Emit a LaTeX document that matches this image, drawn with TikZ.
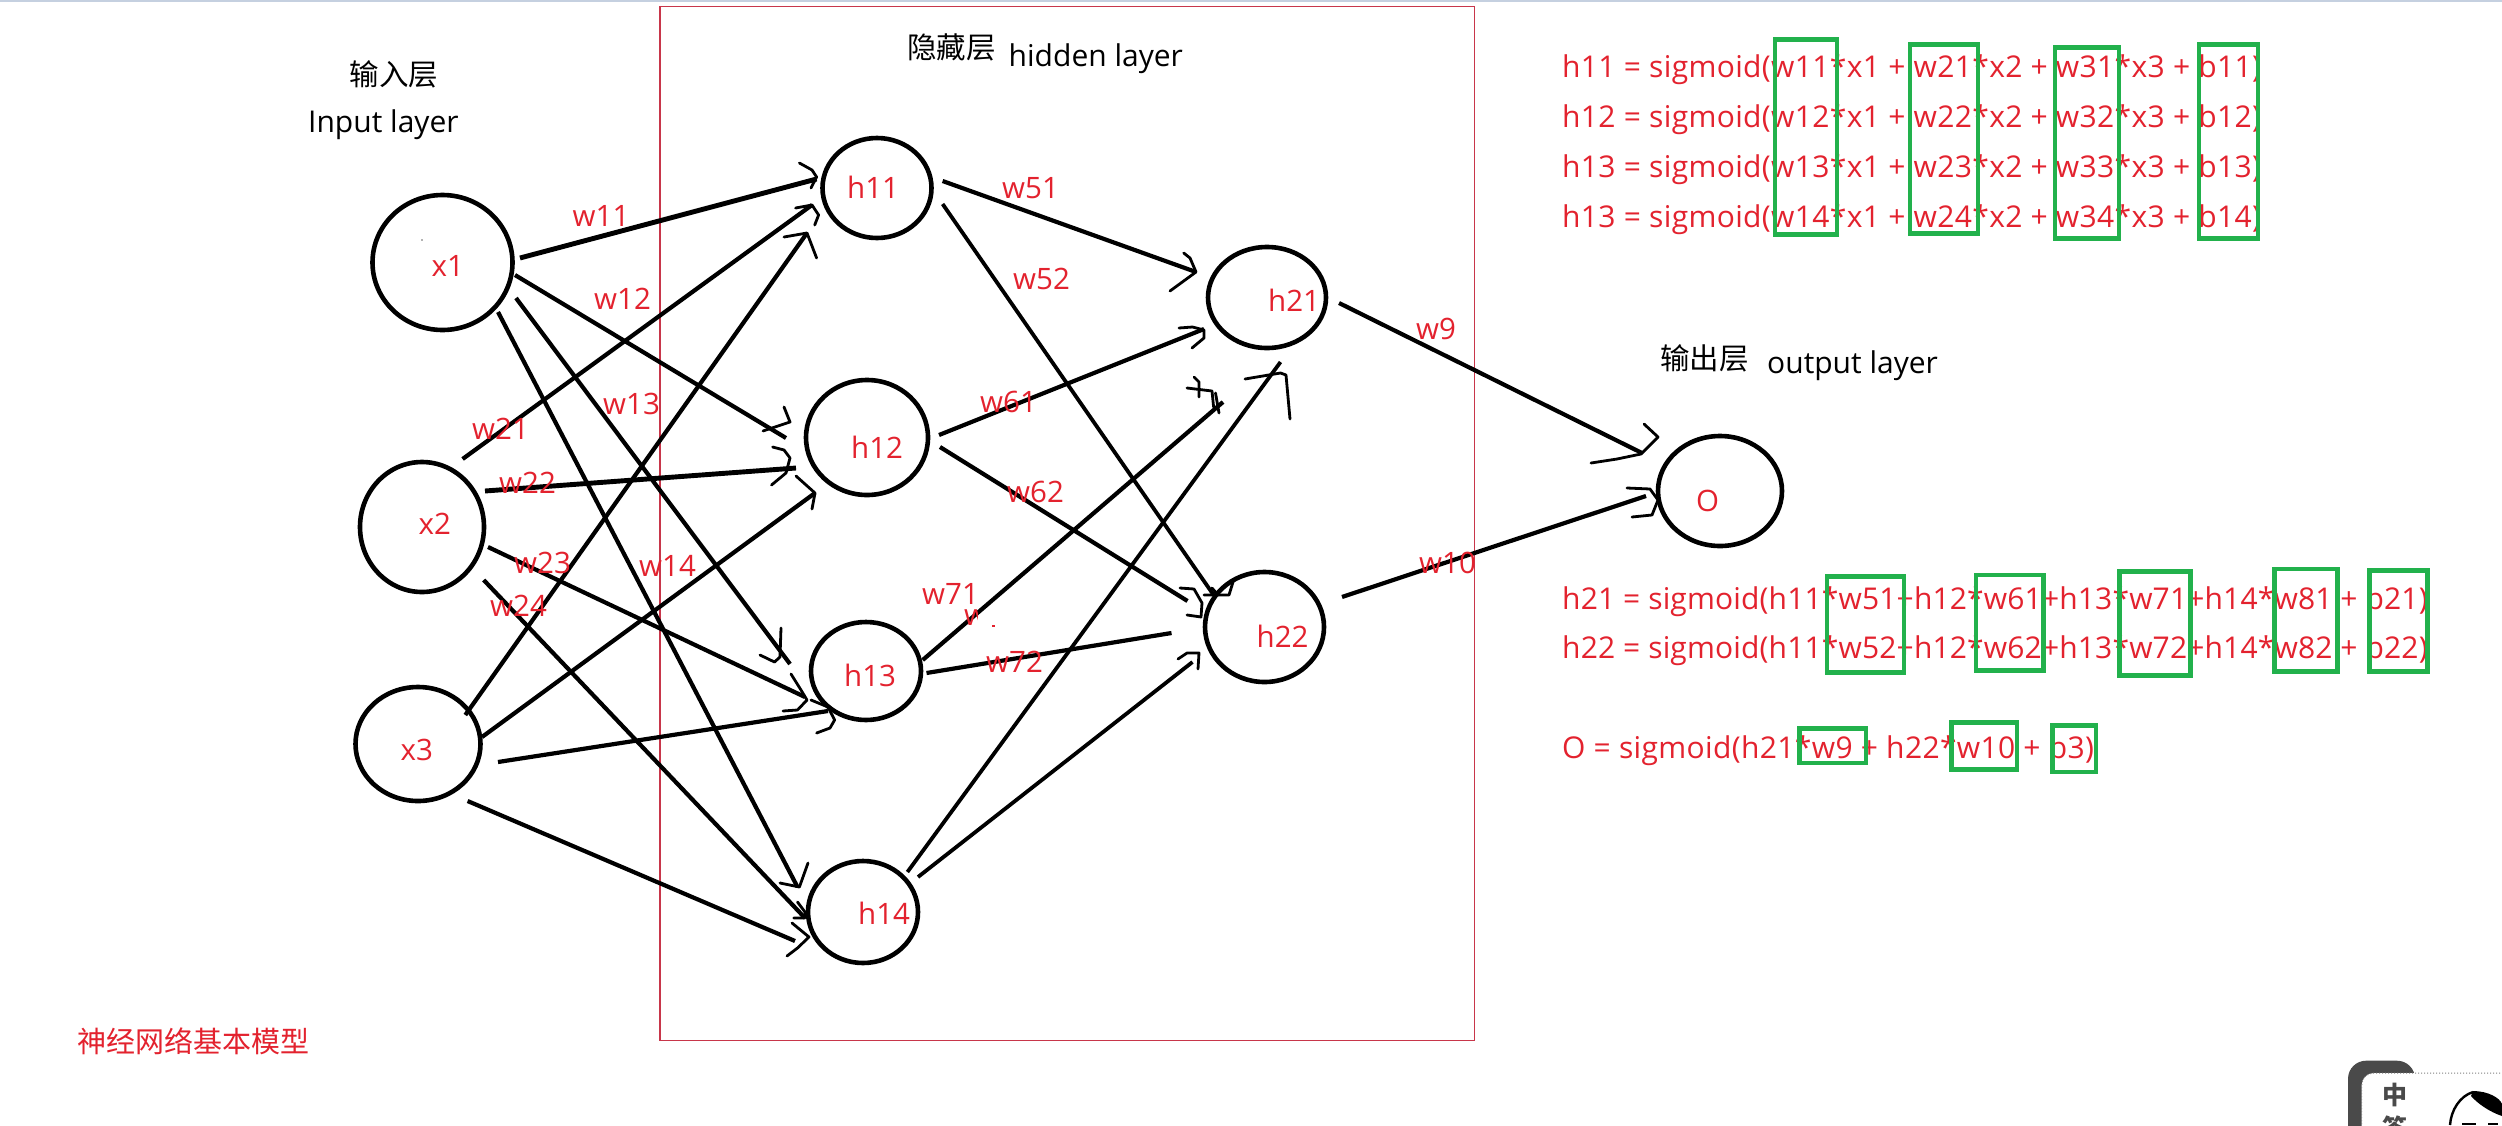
\documentclass[tikz,border=0pt]{standalone}
\usepackage{fontspec}
\setmainfont{Open Sans}
\newfontfamily\cjk{Noto Sans CJK SC}
\newfontfamily\formulaA[LetterSpace=1.2]{Open Sans}
\newfontfamily\formulaB[LetterSpace=0.5]{Open Sans}
\newfontfamily\formulaC[LetterSpace=1.2]{Open Sans}
\definecolor{redtxt}{HTML}{E3222E}
\definecolor{greenbox}{HTML}{22B14C}
\definecolor{framered}{HTML}{C8364A}
\definecolor{topbar}{HTML}{C5D0E0}
\definecolor{icongray}{HTML}{4A4A4A}
\tikzset{
  neuron/.style={ellipse,draw=black,line width=4.6pt,inner sep=0pt,fill=none},
  wire/.style={draw=black,line width=4.2pt},
  heavywire/.style={draw=black,line width=4.9pt},
  lightwire/.style={draw=black,line width=3.8pt},
  headstroke/.style={draw=black,line width=2.8pt,line cap=round,line join=round},
  redlabel/.style={anchor=base west,inner sep=0pt,text=redtxt,font=\fontsize{29.5}{32}\selectfont},
  formula/.style={anchor=base west,inner sep=0pt,text=redtxt},
  blacklabel/.style={anchor=base west,inner sep=0pt,text=black,font=\fontsize{30}{32}\selectfont},
  cjklabel/.style={anchor=center,inner sep=0pt,text=black,font=\cjk\fontsize{29.5}{32}\selectfont},
  greenframe/.style={draw=greenbox,line width=4.5pt},
}
\usetikzlibrary{shapes.geometric}
\begin{document}
\begin{tikzpicture}[x=1pt,y=-1pt]
\useasboundingbox (0,0) rectangle (2502,1125);
\clip (0,0) rectangle (2502,1125);
\fill[white] (0,0) rectangle (2502,1125);
\fill[topbar] (0,0) rectangle (2502,2.2);
% hidden-layer frame
\draw[framered,line width=1.6pt] (660,6.5) rectangle (1474.5,1040.5);
% neurons
\node[neuron,minimum width=140pt,minimum height=135pt] (x1) at (442.5,262.5) {};
\node[neuron,minimum width=124pt,minimum height=130pt] (x2) at (422,527) {};
\node[neuron,minimum width=125pt,minimum height=114pt] (x3) at (418,744) {};
\node[neuron,minimum width=109pt,minimum height=100pt] (h11) at (877,188) {};
\node[neuron,minimum width=122pt,minimum height=115pt] (h12) at (867,437.5) {};
\node[neuron,minimum width=110pt,minimum height=98pt] (h13) at (866,671) {};
\node[neuron,minimum width=110pt,minimum height=102pt] (h14) at (863,912) {};
\node[neuron,minimum width=118pt,minimum height=101pt] (h21) at (1267,297.5) {};
\node[neuron,minimum width=119pt,minimum height=110pt] (h22) at (1264.5,627) {};
\node[neuron,minimum width=124pt,minimum height=110pt] (O) at (1720,491) {};
% connectors
\draw[heavywire] ([shift={(77.5,-4.5)}]x1.center) -- ([shift={(-60.4,-9)}]h11.center);
\draw[wire] ([shift={(40.6,-68)}]x2.center) -- ([shift={(-65,17)}]h11.center);
\draw[wire] ([shift={(47.3,-29)}]x3.center) -- ([shift={(-70,45)}]h11.center);
\draw[wire] ([shift={(72.5,12.5)}]x1.center) -- ([shift={(-81,0.5)}]h12.center);
\draw[heavywire] ([shift={(63,-36)}]x2.center) -- ([shift={(-71,30.5)}]h12.center);
\draw[wire] ([shift={(64,-7)}]x3.center) -- ([shift={(-52,55.5)}]h12.center);
\draw[wire] ([shift={(73.5,35.5)}]x1.center) -- ([shift={(-76,-7)}]h13.center);
\draw[wire] ([shift={(66,20)}]x2.center) -- ([shift={(-61,26)}]h13.center);
\draw[wire] ([shift={(80,18)}]x3.center) -- ([shift={(-38,40)}]h13.center);
\draw[wire] ([shift={(55.5,49.5)}]x1.center) -- ([shift={(-65.5,-25)}]h14.center);
\draw[wire] ([shift={(61.7,53)}]x2.center) -- ([shift={(-58,6)}]h14.center);
\draw[wire] ([shift={(49.6,57)}]x3.center) -- ([shift={(-68,29)}]h14.center);
\draw[wire] ([shift={(65.6,-7)}]h11.center) -- ([shift={(-71,-25.5)}]h21.center);
\draw[wire] ([shift={(72,-2.5)}]h12.center) -- ([shift={(-63,31.5)}]h21.center);
\draw[wire] ([shift={(56.7,-11)}]h13.center) -- ([shift={(-44,104.5)}]h21.center);
\draw[lightwire] ([shift={(44.4,-40)}]h14.center) -- ([shift={(13.5,64.5)}]h21.center);
\draw[lightwire] ([shift={(65.6,16)}]h11.center) -- ([shift={(-50.9,-32)}]h22.center);
\draw[wire] ([shift={(73,9.5)}]h12.center) -- ([shift={(-77,-26)}]h22.center);
\draw[wire] ([shift={(60.5,2)}]h13.center) -- ([shift={(-93,6)}]h22.center);
\draw[lightwire] ([shift={(55,-35)}]h14.center) -- ([shift={(-72,35)}]h22.center);
\draw[wire] ([shift={(72,5.5)}]h21.center) -- ([shift={(-78,-38)}]O.center);
\draw[wire] ([shift={(77.5,-30)}]h22.center) -- ([shift={(-74,5)}]O.center);
% hand-drawn arrowheads
\draw[headstroke] (799.4,163) -- (812,170) -- (816.6,177) -- (811,188);
\draw[headstroke] (795.6,208) -- (812,205) -- (818.6,215) -- (814.7,225);
\draw[headstroke] (784,237) -- (807,233) -- (816.6,258);
\draw[headstroke] (784,407) -- (790,422) -- (763,431);
\draw[headstroke] (772.6,447) -- (784,450) -- (790,458) -- (786,473) -- (771.5,485);
\draw[headstroke] (796,476) -- (815,493) -- (812,509);
\draw[headstroke] (781,628) -- (780,657) -- (774.5,662) -- (760,655);
\draw[headstroke] (791,674) -- (801,690) -- (807,700) -- (797.5,710) -- (783,711);
\draw[headstroke] (811,700) -- (828,707) -- (834.6,720) -- (830,728) -- (816.6,733);
\draw[headstroke] (808,863) -- (799.4,887) -- (780,883);
\draw[headstroke] (797.5,902) -- (805,912) -- (805,918) -- (793.7,918);
\draw[headstroke] (792,923) -- (809,937) -- (797.5,948) -- (787,956);
\draw[headstroke] (1183.7,253) -- (1190,258) -- (1196,272) -- (1170,291);
\draw[headstroke] (1179,328) -- (1192.5,327) -- (1204,330) -- (1204,338) -- (1192,348);
\draw[headstroke] (1187,388) -- (1212,391) -- (1213.6,407);
\draw[headstroke] (1194,377) -- (1199,382) -- (1199,397);
\draw[headstroke] (1215.5,393) -- (1219,413);
\draw[headstroke] (1245,379) -- (1280.5,373) -- (1286,375) -- (1290,419);
\draw[headstroke] (1204,595) -- (1229,595) -- (1233,582);
\draw[headstroke] (1212,588) -- (1218,595);
\draw[headstroke] (1180,588) -- (1194,589) -- (1202,603) -- (1201,617) -- (1187,615);
\draw[headstroke] (1178,659) -- (1187,653) -- (1199,653) -- (1198,669);
\draw[headstroke] (1644,424) -- (1658,437) -- (1641,454) -- (1617,459) -- (1591,463);
\draw[headstroke] (1627,488) -- (1650,489) -- (1658,500) -- (1652,515) -- (1632,517);
% stray marks
\fill[black!60] (422,240) circle (0.9pt);
\fill[redtxt] (992,625) rectangle (995,626.5);
% node labels
\node[redlabel] (tx1) at (431.5,276) {x1};
\node[redlabel] (tx2) at (418.5,534) {x2};
\node[redlabel] (tx3) at (400.5,760) {x3};
\node[redlabel] (th11) at (847,198) {h11};
\node[redlabel] (th12) at (851,458) {h12};
\node[redlabel] (th13) at (844,686) {h13};
\node[redlabel] (th14) at (858,924) {h14};
\node[redlabel] (th21) at (1268,311) {h21};
\node[redlabel] (th22) at (1256.5,647) {h22};
\node[redlabel] (tO) at (1696,511) {O};
% weight labels
\node[redlabel] (w11) at (572.5,226.7) {w11};
\node[redlabel] (w12) at (594,309) {w12};
\node[redlabel] (w13) at (603,414) {w13};
\node[redlabel] (w14) at (639,576) {w14};
\node[redlabel] (w21) at (472,439) {w21};
\node[redlabel] (w22) at (499,493) {w22};
\node[redlabel] (w23) at (514,573) {w23};
\node[redlabel] (w24) at (490,616) {w24};
\node[redlabel] (w51) at (1002,198) {w51};
\node[redlabel] (w52) at (1013,289) {w52};
\node[redlabel] (w61) at (980,412) {w61};
\node[redlabel] (w62) at (1007,502) {w62};
\node[redlabel] (w71) at (922,604) {w71};
\node[redlabel] (w72) at (986,672) {w72};
\node[redlabel] (w9) at (1416,339) {w9};
\node[redlabel] (w10) at (1419,573) {w10};
\begin{scope}
  \clip (960,600) rectangle (977,630);
  \node[redlabel] (wfrag) at (964,625) {w};
\end{scope}
% layer titles
\node[cjklabel] (tin) at (394,74) {输入层};
\node[blacklabel] (tinen) at (308,132) {Input layer};
\node[cjklabel] (thid) at (951.5,47.5) {隐藏层};
\node[blacklabel] (thiden) at (1008.5,66) {hidden layer};
\node[cjklabel] (tout) at (1704.5,358) {输出层};
\node[blacklabel] (touten) at (1767,373) {output layer};
\node[cjklabel,text=redtxt,font=\cjk\fontsize{29}{32}\selectfont] (tcap) at (193.5,1041.5) {神经网络基本模型};
% formulas
\node[formula,font=\formulaA\fontsize{30}{32}\selectfont] (f1) at (1562,77) {h11 = sigmoid(w11*x1 + w21*x2 + w31*x3 + b11)};
\node[formula,font=\formulaA\fontsize{30}{32}\selectfont] (f2) at (1562,127) {h12 = sigmoid(w12*x1 + w22*x2 + w32*x3 + b12)};
\node[formula,font=\formulaA\fontsize{30}{32}\selectfont] (f3) at (1562,177) {h13 = sigmoid(w13*x1 + w23*x2 + w33*x3 + b13)};
\node[formula,font=\formulaA\fontsize{30}{32}\selectfont] (f4) at (1562,227) {h13 = sigmoid(w14*x1 + w24*x2 + w34*x3 + b14)};
\node[formula,font=\formulaB\fontsize{30}{32}\selectfont] (f5) at (1562,609) {h21 = sigmoid(h11*w51+h12*w61+h13*w71+h14*w81 + b21)};
\node[formula,font=\formulaB\fontsize{30}{32}\selectfont] (f6) at (1562,658.7) {h22 = sigmoid(h11*w52+h12*w62+h13*w72+h14*w82 + b22)};
\node[formula,font=\formulaC\fontsize{30}{32}\selectfont] (f7) at (1562,758) {O = sigmoid(h21*w9 + h22*w10 + b3)};
% green frames
\draw[greenframe] (1775,39.5) rectangle (1837,234.5);
\draw[greenframe] (1910,44.5) rectangle (1978,233.5);
\draw[greenframe] (2055,47.5) rectangle (2119,238.5);
\draw[greenframe] (2199,44.5) rectangle (2258,238.5);
\draw[greenframe] (1827,576.3) rectangle (1904,672.5);
\draw[greenframe] (1976,574.8) rectangle (2043.5,670.3);
\draw[greenframe] (2119.5,571.3) rectangle (2190.5,675.5);
\draw[greenframe] (2274.5,568.8) rectangle (2337.5,671.4);
\draw[greenframe] (2369.5,570.3) rectangle (2427.5,671.4);
\draw[greenframe] (1799.5,728.3) rectangle (1866,762.8);
\draw[greenframe] (1951.5,722.3) rectangle (2017,769.5);
\draw[greenframe] (2052.5,725.3) rectangle (2096,771.8);
% corner badge
\fill[icongray,rounded corners=18pt] (2348,1160) -- (2348,1060.7) -- (2415,1060.7) -- (2415,1160) -- cycle;
\fill[white,rounded corners=12pt] (2361.7,1160) -- (2361.7,1073) -- (2520,1073) -- (2520,1160) -- cycle;
\draw[gray,line width=1pt,dotted,rounded corners=12pt] (2361.7,1160) -- (2361.7,1073) -- (2520,1073);
\node[inner sep=0pt,text=icongray,font=\cjk\bfseries\fontsize{25}{27}\selectfont] (tzh) at (2395,1095) {中};
\node[inner sep=0pt,text=icongray,font=\cjk\bfseries\fontsize{25}{27}\selectfont] (tda) at (2395,1128) {答};
\fill[black] (2473,1091) .. controls (2488,1091) and (2500,1098) .. (2502,1104) -- (2502,1116) .. controls (2490,1112) and (2478,1104) .. (2471,1096) -- cycle;
\draw[black,line width=2.4pt] (2450,1125) .. controls (2451,1110) and (2460,1096) .. (2473,1092);
\fill[black] (2462,1123) rectangle (2476,1125);
\fill[black] (2488,1123) rectangle (2498,1125);
\end{tikzpicture}
\end{document}
